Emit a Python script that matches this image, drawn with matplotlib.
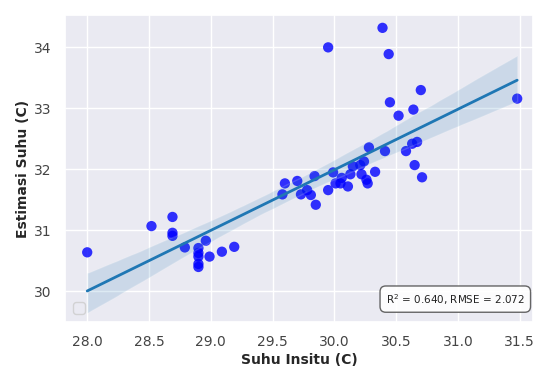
import matplotlib
matplotlib.use("Agg")
import matplotlib.pyplot as plt
import seaborn as sns
import numpy as np

suhu_insitu = [28.00, 28.52, 28.69, 28.69, 28.69, 28.79, 28.90, 28.90, 28.90, 28.90,
               28.90, 28.96, 28.99, 29.09, 29.19,
               29.58, 29.60, 29.70, 29.73, 29.78, 29.81, 29.84, 29.85, 29.95, 29.99,
               30.01, 30.05, 30.06, 30.11, 30.13, 30.15, 30.21, 30.24, 30.22, 30.26,
               30.27, 30.33, 30.28, 30.41, 30.58, 30.63, 30.67, 30.65, 30.71,
               30.39, 29.95, 30.44, 30.70, 30.45, 30.64, 30.52, 31.48]
estimasi_suhu = [30.64, 31.07, 31.22, 30.96, 30.91, 30.72, 30.71, 30.63, 30.57, 30.45,
                 30.40, 30.83, 30.57, 30.65, 30.73,
                 31.59, 31.77, 31.81, 31.59, 31.66, 31.58, 31.89, 31.42, 31.66, 31.95,
                 31.77, 31.77, 31.86, 31.72, 31.92, 32.05, 32.07, 32.13, 31.92, 31.83,
                 31.77, 31.96, 32.36, 32.30, 32.30, 32.42, 32.45, 32.07, 31.87,
                 34.32, 34.00, 33.89, 33.30, 33.10, 32.98, 32.88, 33.16]
metric_text = "R$^2$ = 0.640, RMSE = 2.072"
x_label = "Suhu Insitu (C)"
y_label = "Estimasi Suhu (C)"

sns.set_theme(style="darkgrid")
plt.rcParams['font.family'] = ['DejaVu Sans']

fig = plt.figure(figsize=(5.37, 3.67), dpi=100)
ax = fig.add_axes([0.121, 0.123, 0.872, 0.836])

sns.regplot(x=np.array(suhu_insitu), y=np.array(estimasi_suhu), ax=ax, seed=3,
            scatter_kws=dict(color="blue", s=55, alpha=0.8, edgecolor="none"),
            line_kws=dict(color="#1f77b4", lw=2))

ax.set_xlim(27.82, 31.61)
ax.set_ylim(29.5, 34.53)
ax.set_xticks([28.0, 28.5, 29.0, 29.5, 30.0, 30.5, 31.0, 31.5])
ax.set_yticks([30, 31, 32, 33, 34])
ax.tick_params(labelsize=10, colors="#444444")
ax.set_xlabel(x_label, fontsize=10, fontweight="bold", labelpad=3)
ax.set_ylabel(y_label, fontsize=10, fontweight="bold", labelpad=3)

ax.legend(handles=[], loc="lower left")

ax.text(0.982, 0.05, metric_text, transform=ax.transAxes, ha="right", va="bottom",
        fontsize=7.5, color="#222222",
        bbox=dict(boxstyle="round,pad=0.55", facecolor="white", edgecolor="#555555", alpha=0.9))

fig.savefig("out.png", dpi=100)
